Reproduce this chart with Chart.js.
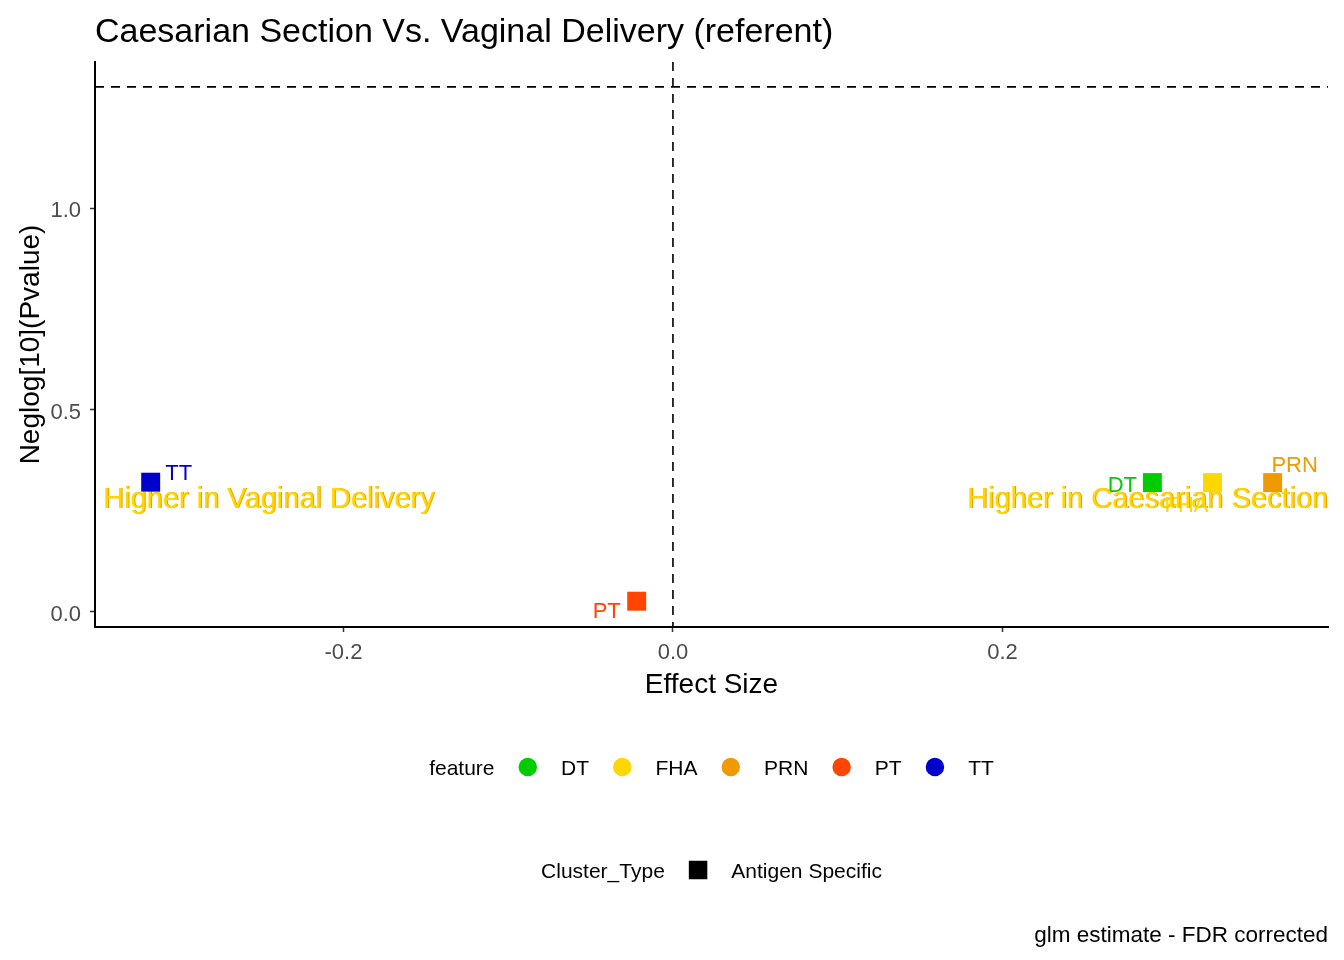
<!DOCTYPE html>
<html>
<head>
<meta charset="utf-8">
<script src="https://cdn.jsdelivr.net/npm/chart.js@4.4.1/dist/chart.umd.min.js"></script>
<style>
  body { margin: 0; background: #fff; }
  #wrap { width: 1344px; height: 960px; position: relative; }
</style>
</head>
<body>
<div id="wrap"><canvas id="myChart"></canvas></div>
<script>
// values
const features = ['DT', 'FHA', 'PRN', 'PT', 'TT'];
const effectSize = [0.291, 0.3275, 0.364, -0.022, -0.317];
const negLogP = [0.320, 0.320, 0.320, 0.026, 0.321];
const featureColors = ['#00CD00', '#FFD700', '#EE9A00', '#FF4500', '#0000CD'];
const xTicks = [-0.2, 0.0, 0.2];
const yTicks = [0.0, 0.5, 1.0];
const pThreshold = 0.05;
const clusterTypes = ['Antigen Specific'];
const sideNotes = ['Higher in Vaginal Delivery', 'Higher in Caesarian Section'];
const sideNoteY = 0.282;

const FONT = '"Liberation Sans", Arial, sans-serif';
const DY = 2.5; // canvas 'middle' sits a bit high compared with R's text centring

// ggrepel style nudges for the point labels (px)
const labelNudge = { DT: [-30, 1], FHA: [-26, 21], PRN: [22, -19], PT: [-30, 8], TT: [28, -11] };

let datasets = features.map((f, i) => ({
  label: f,
  data: [{ x: effectSize[i], y: negLogP[i] }],
  pointStyle: 'rect',
  pointRadius: 13.4,
  pointHoverRadius: 13.4,
  backgroundColor: featureColors[i],
  borderColor: featureColors[i],
  borderWidth: 0
}));

function legendRow(ctx, title, items, cx, cy, drawKey) {
  ctx.font = '21px ' + FONT;
  const gap = 24, key = 18.5;
  let total = ctx.measureText(title).width;
  items.forEach(it => { total += gap + key + gap + ctx.measureText(it.label).width; });
  let x = cx - total / 2;
  ctx.fillStyle = '#000';
  ctx.textAlign = 'left';
  ctx.textBaseline = 'middle';
  ctx.fillText(title, x, cy + DY);
  x += ctx.measureText(title).width + gap;
  items.forEach(it => {
    drawKey(ctx, x + key / 2, cy, key, it.color);
    x += key + gap;
    ctx.fillStyle = '#000';
    ctx.fillText(it.label, x, cy + DY);
    x += ctx.measureText(it.label).width + gap;
  });
}

const extras = {
  id: 'extras',
  beforeDatasetsDraw(chart) {
    const { ctx, chartArea: a, scales: { x, y } } = chart;
    ctx.save();
    // reference lines
    ctx.strokeStyle = '#000';
    ctx.lineWidth = 1.6;
    ctx.setLineDash([9, 7]);
    const yy = y.getPixelForValue(-Math.log10(pThreshold));
    ctx.beginPath(); ctx.moveTo(a.left, yy); ctx.lineTo(a.right, yy); ctx.stroke();
    const xx = x.getPixelForValue(0);
    ctx.beginPath(); ctx.moveTo(xx, a.top); ctx.lineTo(xx, a.bottom); ctx.stroke();
    ctx.setLineDash([]);

    // point labels
    ctx.textAlign = 'center';
    ctx.textBaseline = 'middle';
    ctx.font = '22px ' + FONT;
    features.forEach((f, i) => {
      const px = x.getPixelForValue(effectSize[i]);
      const py = y.getPixelForValue(negLogP[i]);
      const n = labelNudge[f];
      ctx.fillStyle = featureColors[i];
      ctx.fillText(f, px + n[0], py + n[1] + DY);
    });

    // side notes
    ctx.font = '29px ' + FONT;
    const sy = y.getPixelForValue(sideNoteY) + DY;
    [[sideNotes[0], a.left + 8, 'left'], [sideNotes[1], a.right, 'right']].forEach(([t, tx, al]) => {
      ctx.textAlign = al;
      ctx.fillStyle = '#EE9A00';
      ctx.fillText(t, tx + 1, sy);
      ctx.fillStyle = '#FFD700';
      ctx.fillText(t, tx, sy);
    });
    ctx.restore();
  },
  afterDraw(chart) {
    const { ctx, chartArea: a } = chart;
    const cx = (a.left + a.right) / 2;
    ctx.save();
    ctx.fillStyle = '#000';
    ctx.textBaseline = 'middle';
    // title
    ctx.textAlign = 'left';
    ctx.font = '34px ' + FONT;
    ctx.fillText('Caesarian Section Vs. Vaginal Delivery (referent)', a.left, 30 + DY);
    // axis titles
    ctx.textAlign = 'center';
    ctx.font = '28px ' + FONT;
    ctx.fillText('Effect Size', cx, 683 + DY);
    ctx.save();
    ctx.translate(29 + DY, (a.top + a.bottom) / 2);
    ctx.rotate(-Math.PI / 2);
    ctx.fillText('Neglog[10](Pvalue)', 0, 0);
    ctx.restore();
    // legends
    legendRow(ctx, 'feature', features.map((f, i) => ({ label: f, color: featureColors[i] })), cx, 767,
      (c, kx, ky, s, col) => { c.fillStyle = col; c.beginPath(); c.arc(kx, ky, s / 2, 0, Math.PI * 2); c.fill(); });
    legendRow(ctx, 'Cluster_Type', clusterTypes.map(t => ({ label: t, color: '#000' })), cx, 870,
      (c, kx, ky, s, col) => { c.fillStyle = col; c.fillRect(kx - s / 2, ky - s / 2, s, s); });
    // caption
    ctx.fillStyle = '#000';
    ctx.textAlign = 'right';
    ctx.font = '22.5px ' + FONT;
    ctx.fillText('glm estimate - FDR corrected', a.right, 933 + DY);
    ctx.restore();
  }
};

const ctx = document.getElementById('myChart').getContext('2d');
const chart = new Chart(ctx, {
  type: 'scatter',
  data: { datasets: datasets },
  options: {
    responsive: true,
    maintainAspectRatio: false,
    devicePixelRatio: 1,
    animation: false,
    layout: { padding: { left: 0, top: 62, right: 16, bottom: 0 } },
    plugins: { legend: { display: false }, tooltip: { enabled: false }, title: { display: false } },
    scales: {
      x: {
        type: 'linear',
        min: -0.3508,
        max: 0.3976,
        afterFit: s => { s.height = 333; },
        afterBuildTicks: s => { s.ticks = xTicks.map(v => ({ value: v })); },
        grid: { drawOnChartArea: false, drawTicks: true, tickLength: 5, tickColor: '#333', tickWidth: 1.5 },
        border: { display: true, color: '#000', width: 2 },
        ticks: { color: '#4D4D4D', font: { family: FONT, size: 22 }, padding: 8, maxRotation: 0,
                 callback: v => v.toFixed(1) }
      },
      y: {
        type: 'linear',
        min: -0.038,
        max: 1.3627,
        afterFit: s => { s.width = 95; },
        afterBuildTicks: s => { s.ticks = yTicks.map(v => ({ value: v })); },
        grid: { drawOnChartArea: false, drawTicks: true, tickLength: 5, tickColor: '#333', tickWidth: 1.5 },
        border: { display: true, color: '#000', width: 2 },
        ticks: { color: '#4D4D4D', font: { family: FONT, size: 22 }, padding: 9, labelOffset: 3,
                 callback: v => v.toFixed(1) }
      }
    }
  },
  plugins: [extras]
});
</script>
</body>
</html>
